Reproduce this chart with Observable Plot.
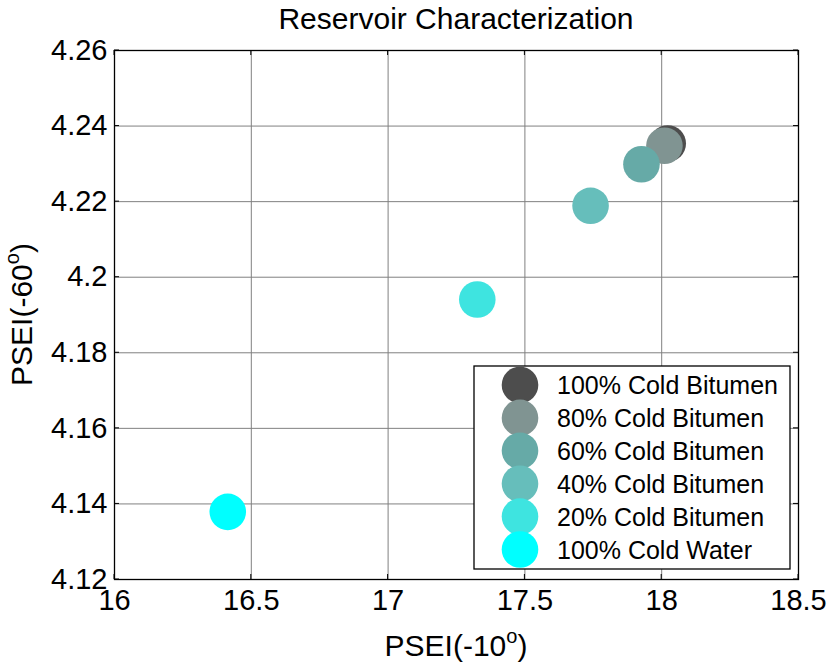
<!DOCTYPE html>
<html>
<head>
<meta charset="utf-8">
<script src="https://cdn.jsdelivr.net/npm/d3@7"></script>
<script src="https://cdn.jsdelivr.net/npm/@observablehq/plot@0.6"></script>
<style>
  html, body { margin: 0; padding: 0; background: #fff; }
  #chart svg { display: block; }
</style>
</head>
<body>
<div id="chart"></div>
<script>
// ---- data ----
const series = ["100% Cold Bitumen", "80% Cold Bitumen", "60% Cold Bitumen", "40% Cold Bitumen", "20% Cold Bitumen", "100% Cold Water"];
const xValues = [18.022, 18.010, 17.926, 17.740, 17.326, 16.414];
const yValues = [4.2354, 4.2348, 4.2299, 4.2189, 4.1941, 4.1379];
const colors = ["#4d4d4d", "#809492", "#66aaa7", "#66bebb", "#3ee4e0", "#00ffff"];
const xTicks = [16, 16.5, 17, 17.5, 18, 18.5];
const yTicks = [4.12, 4.14, 4.16, 4.18, 4.2, 4.22, 4.24, 4.26];
const titleText = "Reservoir Characterization";
const xLabelBase = "PSEI(-10";
const yLabelBase = "PSEI(-60";
const degreeMark = "o";

const data = series.map((s, i) => ({ series: s, x: xValues[i], y: yValues[i] }));

const W = 830, H = 666;
const mL = 114, mR = 32, mT = 50, mB = 87;
const font = "'Liberation Sans', Arial, Helvetica, sans-serif";

const chart = Plot.plot({
  width: W,
  height: H,
  marginLeft: mL,
  marginRight: mR,
  marginTop: mT,
  marginBottom: mB,
  style: { fontFamily: font, fontSize: "29px", color: "#000", background: "#fff" },
  x: { domain: [16, 18.5] },
  y: { domain: [4.12, 4.26] },
  color: { domain: series, range: colors },
  marks: [
    Plot.gridX(xTicks, { stroke: "#808080", strokeOpacity: 1, strokeWidth: 1 }),
    Plot.gridY(yTicks, { stroke: "#808080", strokeOpacity: 1, strokeWidth: 1 }),
    Plot.frame({ stroke: "#000", strokeWidth: 1.3 }),
    Plot.axisX(xTicks, { tickSize: 0, tickPadding: 10, label: null, tickFormat: d => String(d), fontSize: 29 }),
    Plot.axisY(yTicks, { tickSize: 0, tickPadding: 7, label: null, tickFormat: d => String(d), fontSize: 29 }),
    Plot.dot(data, { x: "x", y: "y", fill: "series", r: 18.3, stroke: "none" })
  ]
});

document.getElementById("chart").appendChild(chart);

const svg = d3.select(chart);
const xs = chart.scale("x"), ys = chart.scale("y"), cs = chart.scale("color");

// inward ticks (MATLAB style) on all four sides
const tk = 5;
const tg = svg.append("g").attr("stroke", "#000").attr("stroke-width", 1);
xTicks.forEach(t => {
  const px = xs.apply(t);
  tg.append("line").attr("x1", px).attr("x2", px).attr("y1", H - mB).attr("y2", H - mB - tk);
  tg.append("line").attr("x1", px).attr("x2", px).attr("y1", mT).attr("y2", mT + tk);
});
yTicks.forEach(t => {
  const py = ys.apply(t);
  tg.append("line").attr("x1", mL).attr("x2", mL + tk).attr("y1", py).attr("y2", py);
  tg.append("line").attr("x1", W - mR).attr("x2", W - mR - tk).attr("y1", py).attr("y2", py);
});

// title
svg.append("text")
  .attr("x", (mL + W - mR) / 2).attr("y", 29)
  .attr("text-anchor", "middle")
  .style("font-family", font).style("font-size", "30px").attr("fill", "#000")
  .text(titleText);

// x axis label with superscript
const xl = svg.append("text")
  .attr("x", (mL + W - mR) / 2).attr("y", 656)
  .attr("text-anchor", "middle")
  .style("font-family", font).style("font-size", "30px").attr("fill", "#000");
xl.append("tspan").text(xLabelBase);
xl.append("tspan").attr("dy", -13).style("font-size", "20px").text(degreeMark);
xl.append("tspan").attr("dy", 13).text(")");

// y axis label with superscript
const yl = svg.append("text")
  .attr("transform", `translate(32,${(mT + H - mB) / 2}) rotate(-90)`)
  .attr("text-anchor", "middle")
  .style("font-family", font).style("font-size", "30px").attr("fill", "#000");
yl.append("tspan").text(yLabelBase);
yl.append("tspan").attr("dy", -13).style("font-size", "20px").text(degreeMark);
yl.append("tspan").attr("dy", 13).text(")");

// legend
const lg = svg.append("g");
const lx = 474, ly = 366, lw = 316, lh = 203;
lg.append("rect").attr("x", lx).attr("y", ly).attr("width", lw).attr("height", lh)
  .attr("fill", "#fff").attr("stroke", "#000").attr("stroke-width", 1.3);
const rowH = 32.9;
series.forEach((s, i) => {
  const cy = ly + 19 + i * rowH;
  lg.append("circle").attr("cx", lx + 46).attr("cy", cy).attr("r", 18.3).attr("fill", cs.apply(s));
  lg.append("text").attr("x", lx + 83).attr("y", cy).attr("dy", "0.36em")
    .attr("text-anchor", "start")
    .style("font-family", font).style("font-size", "25px").attr("fill", "#000")
    .text(s);
});
</script>
</body>
</html>
